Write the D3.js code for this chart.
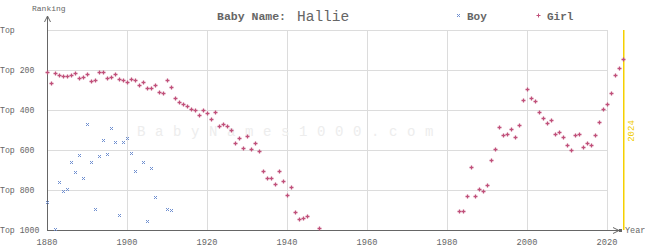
<!DOCTYPE html>
<html>
<head>
<meta charset="utf-8">
<script src="https://cdn.jsdelivr.net/npm/d3@7"></script>
<style>
  body { margin: 0; background: #fff; }
  text { font-family: "Liberation Mono", "DejaVu Sans Mono", monospace; }
</style>
</head>
<body>
<div class="chart"></div>
<script>
var svgWidth = 645;
var svgHeight = 250;

// girl ranking by year (gaps = not in top 1000)
var girlYears = [1880,1881,1882,1883,1884,1885,1886,1887,1888,1889,
  1890,1891,1892,1893,1894,1895,1896,1897,1898,1899,
  1900,1901,1902,1903,1904,1905,1906,1907,1908,1909,
  1910,1911,1912,1913,1914,1915,1916,1917,1918,1919,
  1920,1921,1922,1923,1924,1925,1926,1927,1928,1929,
  1930,1931,1932,1933,1934,1935,1936,1937,1938,1939,
  1940,1941,1942,1943,1944,1945,1948,
  1983,1984,1985,1986,1987,1988,1989,
  1990,1991,1992,1993,1994,1995,1996,1997,1998,1999,
  2000,2001,2002,2003,2004,2005,2006,2007,2008,2009,
  2010,2011,2012,2013,2014,2015,2016,2017,2018,2019,
  2020,2021,2022,2023,2024];
var girlRanks = [210,267,217,227,232,232,227,217,242,237,
  222,257,252,212,212,242,237,222,247,252,
  262,247,252,277,262,292,292,277,312,317,
  252,287,342,362,372,382,397,402,427,402,
  417,447,412,482,472,482,502,567,542,592,
  532,597,567,607,707,742,742,772,707,757,
  827,787,912,947,942,932,992,
  907,907,832,687,832,797,807,
  777,652,597,487,527,522,497,537,477,352,
  297,342,357,412,442,467,452,522,512,537,
  577,602,527,522,587,567,577,527,462,397,
  372,317,227,192,147];

var boyYears = [1880,1882,1883,1884,1885,1886,1887,1888,1889,
  1890,1891,1892,1893,1894,1895,1896,1897,1898,1899,
  1900,1901,1902,1904,1905,1906,1907,1910,1911];
var boyRanks = [862,997,762,807,797,662,712,627,742,
  472,662,897,632,552,622,492,562,927,562,
  542,617,707,662,957,692,837,897,902];

var yTicks = [0, 200, 400, 600, 800, 1000];
var yTickLabels = ["Top", "Top 200", "Top 400", "Top 600", "Top 800", "Top 1000"];
var xTicks = [1880, 1900, 1920, 1940, 1960, 1980, 2000, 2020];

var girlColor = "#c0507a";
var boyColor = "#6f8fd0";
var textColor = "#666";

var x = d3.scaleLinear().domain([1880, 2024]).range([47, 623]);
var y = d3.scaleLinear().domain([0, 1000]).range([30, 230]);

var svg = d3.select(".chart")
  .append("svg")
  .attr("width", svgWidth)
  .attr("height", svgHeight);

// gridlines
var grid = svg.append("g").attr("stroke", "#dcdcdc").attr("stroke-width", 1);
grid.selectAll(".h")
  .data(yTicks.slice(0, 5))
  .enter().append("line")
  .attr("x1", x(1880)).attr("x2", x(2020))
  .attr("y1", d => Math.round(y(d)) + 0.5).attr("y2", d => Math.round(y(d)) + 0.5);
grid.selectAll(".v")
  .data(xTicks.slice(1))
  .enter().append("line")
  .attr("x1", d => Math.round(x(d)) + 0.5).attr("x2", d => Math.round(x(d)) + 0.5)
  .attr("y1", y(0)).attr("y2", y(1000));

// watermark
svg.append("text")
  .attr("x", 137).attr("y", 136)
  .attr("fill", "#ededed")
  .style("font-size", "14px")
  .style("letter-spacing", "9.6px")
  .text("BabyNames1000.com");

// current year line
svg.append("rect")
  .attr("x", x(2024)).attr("y", y(0))
  .attr("width", 1.5).attr("height", y(1000) - y(0))
  .attr("fill", "#f5d000");
svg.append("text")
  .attr("transform", `translate(${x(2024) + 11}, 131) rotate(-90)`)
  .attr("text-anchor", "middle")
  .attr("fill", "#f0cc00")
  .style("font-size", "9px")
  .text("2024");

// axes
var axisColor = "#666";
svg.append("line")
  .attr("x1", 47.5).attr("x2", 47.5).attr("y1", 16).attr("y2", 230)
  .attr("stroke", axisColor);
svg.append("path")
  .attr("d", "M44.5,22 L47.5,16 L50.5,22")
  .attr("fill", "none").attr("stroke", axisColor);
svg.append("line")
  .attr("x1", 47).attr("x2", 621).attr("y1", 230.5).attr("y2", 230.5)
  .attr("stroke", axisColor);
svg.append("path")
  .attr("d", "M613,227.5 L619,230.5 L613,233.5")
  .attr("fill", "none").attr("stroke", axisColor);
svg.append("rect")
  .attr("x", 619).attr("y", 229).attr("width", 3).attr("height", 3)
  .attr("fill", axisColor);

svg.append("text")
  .attr("x", 32).attr("y", 11)
  .attr("fill", textColor).style("font-size", "8px")
  .text("Ranking");
svg.append("text")
  .attr("x", 625).attr("y", 233)
  .attr("fill", textColor).style("font-size", "8.5px")
  .text("Year");

svg.selectAll(".ylab")
  .data(yTicks)
  .enter().append("text")
  .attr("x", 0)
  .attr("y", d => y(d) + 3)
  .attr("fill", textColor)
  .style("font-size", "8.2px")
  .text((d, i) => yTickLabels[i]);

svg.selectAll(".xlab")
  .data(xTicks)
  .enter().append("text")
  .attr("x", d => x(d))
  .attr("y", 245)
  .attr("text-anchor", "middle")
  .attr("fill", textColor)
  .style("font-size", "8.7px")
  .text(d => d);

// title
svg.append("text")
  .attr("x", 217).attr("y", 20)
  .attr("fill", textColor)
  .style("font-size", "11.5px").style("font-weight", "bold")
  .text("Baby Name:");
svg.append("text")
  .attr("x", 297).attr("y", 21)
  .attr("fill", textColor)
  .style("font-size", "14.5px")
  .text("Hallie");

// legend
function crossPath(cx, cy, s) {
  return `M${cx - s},${cy - s}L${cx + s},${cy + s}M${cx - s},${cy + s}L${cx + s},${cy - s}`;
}
function plusPath(cx, cy, s) {
  return `M${cx - s},${cy}L${cx + s},${cy}M${cx},${cy - s}L${cx},${cy + s}`;
}
svg.append("path").attr("d", crossPath(458.5, 15.5, 1.5))
  .attr("stroke", boyColor).attr("fill", "none");
svg.append("text")
  .attr("x", 467).attr("y", 20)
  .attr("fill", textColor)
  .style("font-size", "11px").style("font-weight", "bold")
  .text("Boy");
svg.append("path").attr("d", plusPath(538.5, 15.5, 2))
  .attr("stroke", girlColor).attr("fill", "none");
svg.append("text")
  .attr("x", 547).attr("y", 20)
  .attr("fill", textColor)
  .style("font-size", "11px").style("font-weight", "bold")
  .text("Girl");

// points
svg.append("g").selectAll("path")
  .data(boyYears)
  .enter().append("path")
  .attr("d", (d, i) => crossPath(Math.round(x(d)) + 0.5, Math.round(y(boyRanks[i])) + 0.5, 1.5))
  .attr("stroke", boyColor).attr("fill", "none");

svg.append("g").selectAll("path")
  .data(girlYears)
  .enter().append("path")
  .attr("d", (d, i) => plusPath(Math.round(x(d)) + 0.5, Math.round(y(girlRanks[i])) + 0.5, 2))
  .attr("stroke", girlColor).attr("stroke-width", 1.3).attr("fill", "none");
</script>
</body>
</html>
